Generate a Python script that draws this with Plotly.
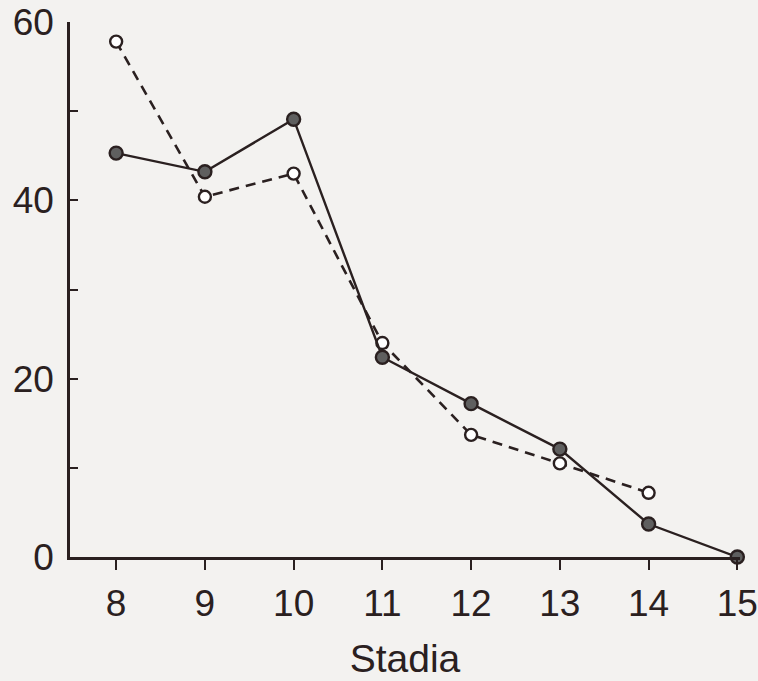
import plotly.graph_objects as go

stadia = [8, 9, 10, 11, 12, 13, 14, 15]
filled_vals = [45.3, 43.2, 49.1, 22.4, 17.2, 12.1, 3.7, 0]
open_stadia = [8, 9, 10, 11, 12, 13, 14]
open_vals = [57.8, 40.4, 43.0, 24.0, 13.7, 10.5, 7.2]

y_tickvals = [0, 10, 20, 30, 40, 50, 60]
y_ticktext = ["0", "", "20", "", "40", "", "60"]

ink = "#2a2020"
bg = "#f3f2f0"
tick_font = "Liberation Sans, Arial, sans-serif"

fig = go.Figure()
fig.add_trace(go.Scatter(
    x=open_stadia, y=open_vals, mode="lines+markers",
    line=dict(color=ink, width=2.6, dash="10px,7px"),
    marker=dict(size=12, color="white", line=dict(color=ink, width=2.4)),
    cliponaxis=False, showlegend=False))
fig.add_trace(go.Scatter(
    x=stadia, y=filled_vals, mode="lines+markers",
    line=dict(color=ink, width=2.4),
    marker=dict(size=13, color="#5f5f5f", line=dict(color=ink, width=2.4)),
    cliponaxis=False, showlegend=False))

fig.update_layout(
    width=758, height=681,
    paper_bgcolor=bg, plot_bgcolor=bg,
    margin=dict(l=70, r=18, t=22, b=124),
    font=dict(family=tick_font, size=37, color=ink),
    xaxis=dict(
        range=[7.48, 15.03], tickvals=stadia,
        showline=True, linecolor=ink, linewidth=2.5,
        ticks="outside", ticklen=10, tickwidth=2, tickcolor=ink,
        showgrid=False, zeroline=False, automargin=False,
        ticklabelstandoff=2, ticklabeloverflow="allow",
        title=dict(text="Stadia", standoff=22, font=dict(size=39)),
    ),
    yaxis=dict(
        range=[0, 60], tickvals=y_tickvals, ticktext=y_ticktext,
        showline=True, linecolor=ink, linewidth=2.5,
        ticks="inside", ticklen=8, tickwidth=2, tickcolor=ink,
        showgrid=False, zeroline=False, automargin=False,
        ticklabelstandoff=6, ticklabeloverflow="allow",
    ),
)

fig.write_html("out.html", config={"displayModeBar": False},
               post_script="document.body.style.margin='0';")
